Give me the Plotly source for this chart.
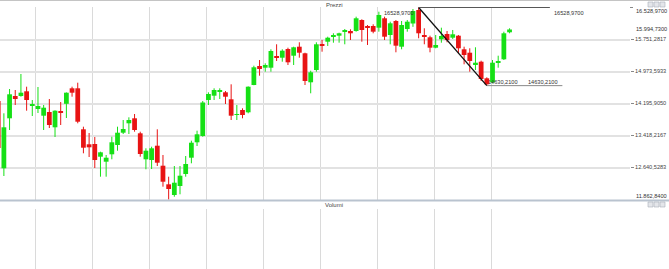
import plotly.graph_objects as go

# ---------------- data ----------------
idx = list(range(91))
opens = [
    14256.7, 12621.1, 13836.2, 14378.2, 14378.2, 14492.4, 14154.7, 14062.2, 13899.4, 13989.3,
    13617.5, 13996.6, 14188.2, 14565.3, 14565.3, 13568.9, 13204.4, 13211.7, 12903.0, 12781.5,
    12961.4, 13187.4, 13486.3, 13714.7, 13836.2, 13471.7, 12839.8, 12822.8, 13170.4, 12684.3,
    12232.2, 11972.2, 12191.0, 12482.6, 12878.7, 13253.0, 13406.1, 14281.0, 14385.5, 14482.7,
    14468.1, 14298.0, 13916.4, 14037.9, 13982.0, 14645.5, 15107.3, 15066.0, 15066.0, 15350.3,
    15309.0, 15520.4, 15357.6, 15576.3, 15416.0, 14711.2, 15010.1, 15617.9, 15697.8, 15819.3,
    15843.6, 15940.9, 15957.9, 15957.9, 16225.2, 16062.4, 16079.4, 16038.1, 16266.6, 15860.7,
    16200.9, 15576.3, 16006.5, 16140.1, 16468.3, 15860.7, 15804.8, 15552.1, 15756.2, 15885.0,
    15795.1, 15843.6, 15513.0, 15430.5, 15131.6, 15211.8, 14808.4, 14711.2, 15197.2, 15270.1,
    15926.2]
highs = [
    14329.6, 13957.7, 14548.3, 14524.0, 14912.9, 14604.2, 14281.0, 14596.9, 14159.5, 14305.3,
    14030.0, 14232.4, 14465.0, 14604.2, 14701.4, 13632.1, 13479.0, 13381.8, 13024.6, 12944.6,
    13389.1, 13632.1, 13794.9, 13860.5, 13940.8, 13510.6, 13107.2, 13146.0, 13568.9, 12944.6,
    12417.0, 12677.0, 12677.0, 12920.0, 13291.9, 13534.9, 14256.7, 14468.1, 14565.3, 14565.3,
    14499.7, 14662.5, 14159.5, 14079.2, 14612.0, 15114.6, 15253.1, 15172.9, 15513.0, 15634.7,
    15513.0, 15552.0, 15576.3, 15683.3, 15430.5, 14993.1, 15683.3, 15739.2, 15819.3, 15902.0,
    15916.5, 16006.5, 15999.2, 16305.4, 16242.2, 16103.7, 16120.7, 16427.0, 16305.4, 16184.0,
    16225.2, 16200.9, 16225.2, 16492.6, 16528.97, 16023.5, 15843.6, 15860.7, 16038.1, 15957.9,
    15982.2, 15860.7, 15576.3, 15537.5, 15561.8, 15236.1, 14832.7, 15253.1, 15357.6, 15940.9,
    16023.5]
lows = [
    13066.0, 12434.0, 13551.9, 14159.5, 14361.2, 14020.9, 13892.1, 13965.0, 13551.9, 13600.5,
    13381.8, 13673.4, 13843.5, 14361.2, 13714.7, 12985.6, 12895.7, 12628.4, 12417.0, 12417.0,
    12839.8, 13048.8, 13454.7, 13454.7, 13510.6, 12903.0, 12596.8, 12604.1, 12677.0, 12174.0,
    11862.84, 11930.8, 11989.0, 12417.0, 12742.6, 13163.1, 13389.1, 14159.5, 14281.0, 14305.3,
    14183.8, 13794.9, 13794.9, 13836.2, 13957.7, 14640.0, 14871.6, 14968.8, 14968.8, 15228.8,
    15211.8, 15131.6, 15131.6, 15309.0, 14645.5, 14443.8, 14968.8, 15454.9, 15593.6, 15673.5,
    15673.5, 15634.7, 15739.2, 15940.9, 15697.8, 15617.9, 15902.0, 15940.9, 15739.2, 15634.7,
    15440.2, 15513.0, 15940.9, 16059.0, 15780.5, 15634.7, 15440.2, 15537.5, 15673.5, 15683.3,
    15763.5, 15416.0, 15148.6, 14968.8, 15010.1, 14742.7, 14630.21, 14686.9, 15066.0, 15253.1,
    15902.0]
closes = [
    13114.5, 13617.5, 14419.5, 14305.3, 14458.4, 14281.0, 14179.0, 14135.1, 14094.1, 13673.4,
    14020.9, 13972.3, 14458.4, 14458.4, 13753.6, 13121.7, 13131.5, 12822.8, 13010.0, 12878.7,
    13253.0, 13486.3, 13576.2, 13794.9, 13551.9, 12968.7, 13048.8, 13107.2, 12757.2, 12295.4,
    12118.0, 12271.1, 12441.3, 12725.6, 13243.3, 13447.4, 14220.2, 14426.8, 14524.0, 14507.0,
    14361.2, 13899.4, 13940.8, 13916.4, 14604.2, 15075.7, 15034.4, 15131.6, 15471.8, 15309.0,
    15479.1, 15197.2, 15561.7, 15430.5, 14742.7, 14954.3, 15634.7, 15593.6, 15795.0, 15860.7,
    15902.0, 15974.9, 15902.0, 16266.6, 15982.2, 16038.1, 15940.9, 16346.8, 15819.3, 16145.0,
    15600.9, 16103.7, 16184.0, 16444.0, 15902.0, 15819.3, 15552.1, 15617.9, 15836.4, 15739.2,
    15877.7, 15537.5, 15374.6, 15228.8, 15187.5, 14791.4, 14662.5, 15187.5, 15228.8, 15902.0,
    15994.73]

ytick_vals = [12640.5283, 13418.2167, 14195.9050, 14973.5933, 15751.2817]
ytick_text = ["12.640,5283", "13.418,2167", "14.195,9050", "14.973,5933", "15.751,2817"]
top_val, top_text = 16528.97, "16.528,9700"
bottom_val, bottom_text = 11862.84, "11.862,8400"
last_text = "15.994,7300"
title_top = "Prezzi"
title_bottom = "Volumi"

# ---------------- geometry ----------------
W, H = 669, 269
def px(x): return x / W
def py(y): return 1 - y / H

GREEN = "#16e016"
RED = "#e81414"
FONT = "Liberation Sans"

inc = [i for i in idx if closes[i] >= opens[i]]
dec = [i for i in idx if closes[i] < opens[i]]

def wick_xy(sel):
    xs, ys = [], []
    for i in sel:
        xs += [i, i, None]
        ys += [lows[i], highs[i], None]
    return xs, ys

fig = go.Figure()
for sel, col in ((inc, GREEN), (dec, RED)):
    wx, wy = wick_xy(sel)
    fig.add_trace(go.Scatter(x=wx, y=wy, mode="lines", line=dict(color=col, width=1),
                             hoverinfo="skip", showlegend=False, xaxis="x", yaxis="y"))
for sel, col in ((inc, GREEN), (dec, RED)):
    fig.add_trace(go.Bar(
        x=[i for i in sel],
        base=[min(opens[i], closes[i]) for i in sel],
        y=[max(abs(closes[i] - opens[i]), 14) for i in sel],
        width=0.84, marker=dict(color=col, line=dict(width=0)),
        showlegend=False, xaxis="x", yaxis="y"))

# empty volume pane trace
fig.add_trace(go.Scatter(x=[None], y=[None], xaxis="x2", yaxis="y2", showlegend=False))

# trend lines (max high -> later min low)
i_max = highs.index(max(highs))
i_min = min(range(i_max, len(lows)), key=lambda k: lows[k])
v_max, v_min = highs[i_max], lows[i_min]
top_end, bot_end = 97.1, 99.3

fig.add_trace(go.Scatter(x=[i_max, i_min], y=[v_max, v_min], mode="lines",
                         line=dict(color="#111111", width=1.3), showlegend=False, hoverinfo="skip"))
fig.add_trace(go.Scatter(x=[i_max, top_end], y=[v_max, v_max], mode="lines",
                         line=dict(color="#555555", width=1), showlegend=False, hoverinfo="skip"))
fig.add_trace(go.Scatter(x=[i_min, bot_end], y=[v_min, v_min], mode="lines",
                         line=dict(color="#8a8a8a", width=1), showlegend=False, hoverinfo="skip"))

xr = [0.317, 111.2]
grid_x = [6.55 + 10.04 * k for k in range(9)]
dom_x = [0, 630 / W]

fig.update_layout(
    width=W, height=H, margin=dict(l=0, r=0, t=0, b=0),
    paper_bgcolor="white", plot_bgcolor="white", barmode="overlay",
    font=dict(family=FONT, size=6, color="#444"),
    showlegend=False,
    xaxis=dict(domain=dom_x, range=xr, tickvals=grid_x, showticklabels=False, ticks="",
               showgrid=True, gridcolor="#dadada", gridwidth=1, zeroline=False, showline=False,
               anchor="y"),
    yaxis=dict(domain=[py(200), py(7)], range=[11850.84, 16540.97], side="right",
               tickvals=ytick_vals, ticktext=ytick_text, ticks="outside", ticklen=3,
               tickcolor="#888", tickfont=dict(family=FONT, size=5.6, color="#444"),
               showgrid=True, gridcolor="#e2e2e2", gridwidth=1.5, zeroline=False,
               showline=False, anchor="x"),
    xaxis2=dict(domain=dom_x, range=xr, tickvals=grid_x, showticklabels=False, ticks="",
                showgrid=True, gridcolor="#dadada", gridwidth=1, zeroline=False,
                showline=False, anchor="y2"),
    yaxis2=dict(domain=[0, py(209)], range=[0, 1], showticklabels=False, showgrid=False,
                zeroline=False, showline=False, anchor="x2"),
)

ann = []
def A(**kw):
    d = dict(showarrow=False, font=dict(family=FONT, size=5.6, color="#333"), borderpad=0)
    d.update(kw)
    ann.append(d)

A(text=title_top, xref="paper", yref="paper", x=px(334), y=py(4.5), xanchor="center", yanchor="middle",
  font=dict(family=FONT, size=6, color="#444"))
A(text=title_bottom, xref="paper", yref="paper", x=px(334), y=py(205), xanchor="center", yanchor="middle",
  font=dict(family=FONT, size=6, color="#444"))
A(text=top_text, xref="paper", yref="y", x=px(635), y=top_val, xanchor="left", yanchor="middle", yshift=-4)
A(text=bottom_text, xref="paper", yref="y", x=px(635), y=bottom_val, xanchor="left", yanchor="middle", yshift=4)
A(text=last_text, xref="paper", yref="y", x=px(635), y=closes[-1], xanchor="left", yanchor="middle")
lbl_max = f"{v_max:.4f}".replace(".", ",")
lbl_min = f"{v_min:.4f}".replace(".", ",")
A(text=lbl_max, x=i_max, y=v_max, xref="x", yref="y", xanchor="right", yanchor="top", xshift=-4, yshift=-2)
A(text=lbl_max, x=top_end, y=v_max, xref="x", yref="y", xanchor="left", yanchor="top", xshift=3, yshift=-2)
A(text=lbl_min, x=i_min, y=v_min, xref="x", yref="y", xanchor="left", yanchor="bottom", xshift=0, yshift=0)
A(text=lbl_min, x=bot_end, y=v_min, xref="x", yref="y", xanchor="right", yanchor="bottom", xshift=-3, yshift=0)
fig.update_layout(annotations=ann)

shapes = [
    # top border
    dict(type="line", xref="paper", yref="paper", x0=0, x1=1, y0=py(0.5), y1=py(0.5),
         line=dict(color="#c4c4c4", width=1)),
    # pane separator
    dict(type="line", xref="paper", yref="paper", x0=0, x1=1, y0=py(200.5), y1=py(200.5),
         line=dict(color="#b9c3cf", width=2)),
    # tick dash for top label
    dict(type="line", xref="paper", yref="y", x0=px(630), x1=px(633), y0=top_val, y1=top_val,
         line=dict(color="#888", width=1)),
]
for ytop in (2, 202):
    for k in range(3):
        x0 = 648 + 6 * k
        shapes.append(dict(type="rect", xref="paper", yref="paper", x0=px(x0), x1=px(x0 + 5),
                           y0=py(ytop + 5), y1=py(ytop), fillcolor="#e4e6ea",
                           line=dict(color="#aab0b8", width=0.6)))
fig.update_layout(shapes=shapes)

fig.write_html("out.html")
